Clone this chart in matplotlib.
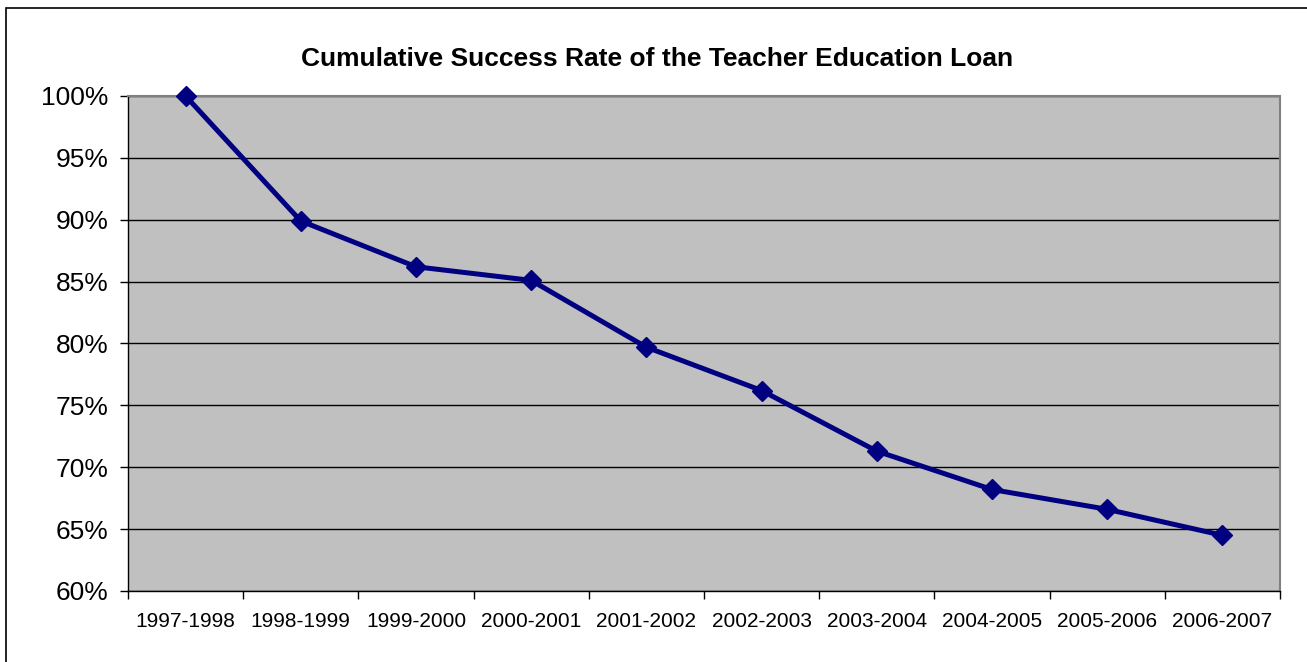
import numpy as np
import matplotlib.pyplot as plt
from matplotlib.patches import Rectangle

plt.rcParams['font.family'] = ['Liberation Sans', 'DejaVu Sans']

years = ["1997-1998", "1998-1999", "1999-2000", "2000-2001", "2001-2002",
         "2002-2003", "2003-2004", "2004-2005", "2005-2006", "2006-2007"]
rate = [100.0, 89.9, 86.2, 85.1, 79.7, 76.2, 71.3, 68.2, 66.6, 64.5]
yticks = [60, 65, 70, 75, 80, 85, 90, 95, 100]

fig = plt.figure(figsize=(13.07, 6.62), dpi=100)
ax = fig.add_axes([0.0979, 0.1073, 0.8814, 0.7477])
ax.set_facecolor('#C0C0C0')

x = np.arange(len(years))
ax.plot(x, rate, color='#000080', lw=3.6, marker='D', ms=10.5, zorder=3, clip_on=False)

ax.set_xlim(-0.5, len(years) - 0.5)
ax.set_ylim(60, 100)
ax.set_yticks(yticks)
ax.set_yticklabels([f"{v}%" for v in yticks], fontsize=19)
ax.set_xticks(np.arange(-0.5, len(years)), minor=False)
ax.set_xticklabels([])
ax.set_xticks(x, minor=True)
ax.set_xticklabels(years, minor=True, fontsize=15)
ax.tick_params(axis='x', which='minor', length=0, pad=15.5)
ax.tick_params(axis='x', which='major', length=5.5, width=1, direction='out')
ax.tick_params(axis='y', length=5.5, width=1, direction='out', pad=8.5)
ax.yaxis.grid(True, color='black', lw=1)
ax.set_axisbelow(True)

for side in ['top', 'right']:
    ax.spines[side].set_color('#808080')
    ax.spines[side].set_linewidth(1.5)
for side in ['left', 'bottom']:
    ax.spines[side].set_color('black')
    ax.spines[side].set_linewidth(1)

fig.text(0.503, 0.911, "Cumulative Success Rate of the Teacher Education Loan",
         ha='center', va='center', fontsize=19, fontweight='bold')

fig.patches.append(Rectangle((6 / 1307, -0.01), 1.02, 1 - 8 / 662 + 0.01,
                             transform=fig.transFigure, fill=False,
                             edgecolor='black', lw=1.2))

fig.savefig('out.png', dpi=100)
